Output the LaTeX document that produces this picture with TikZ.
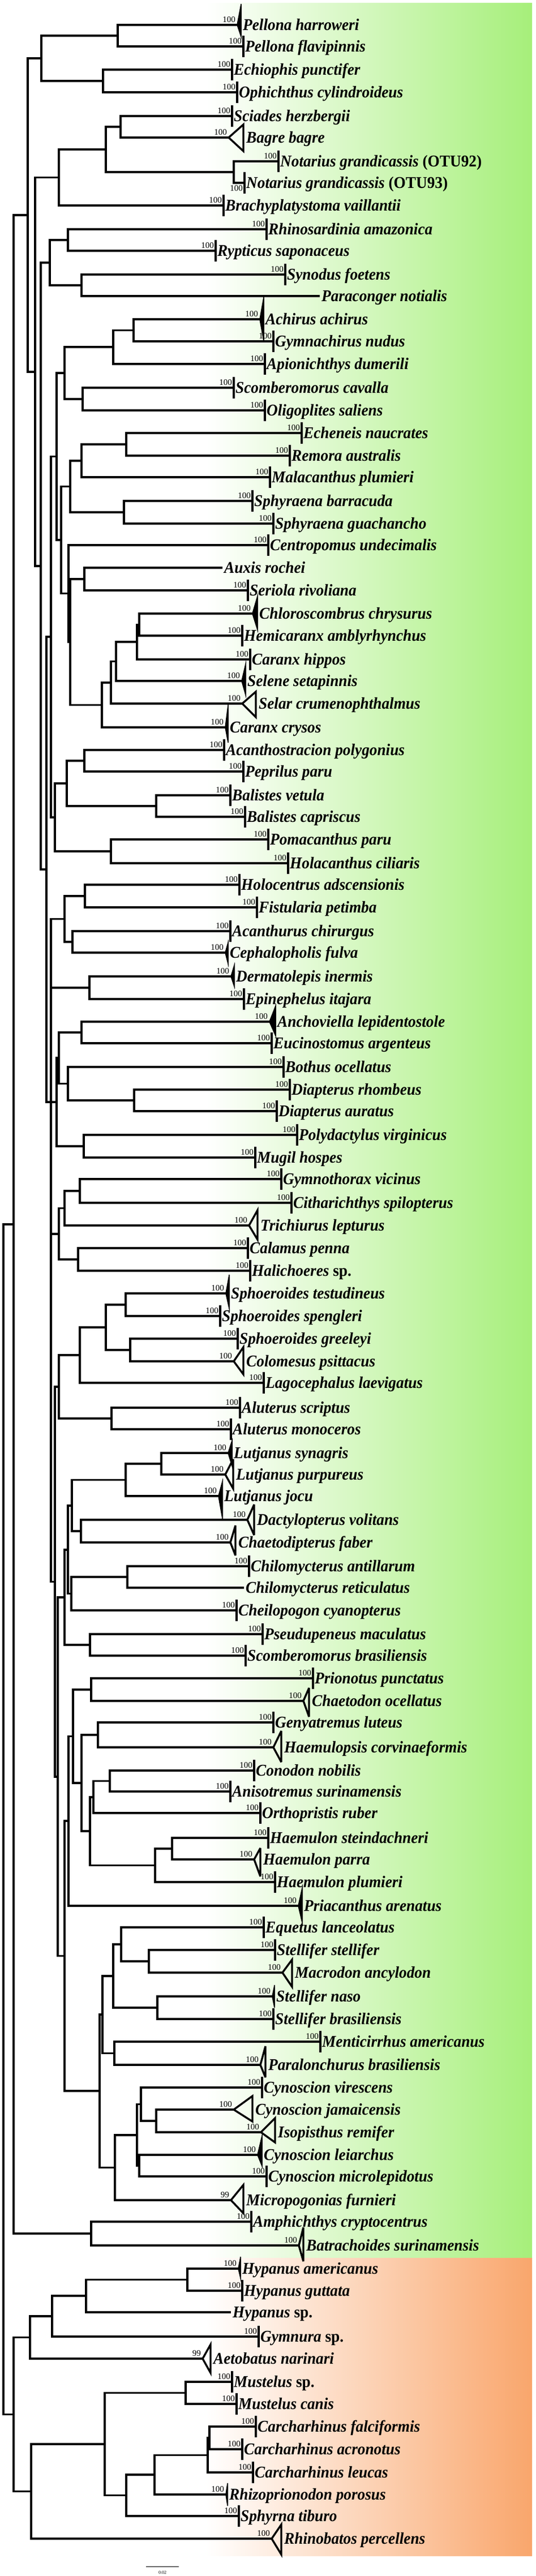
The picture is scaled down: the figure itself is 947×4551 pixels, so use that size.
\documentclass[tikz,border=0pt]{standalone}
\usepackage{fontspec}
\newfontfamily\labfont[FakeStretch=0.94]{Liberation Serif}
\newfontfamily\numfont{Liberation Serif}
\definecolor{grn}{RGB}{166,239,122}
\definecolor{org}{RGB}{249,166,108}
\tikzset{
 br/.style={line width=3.8pt, line join=miter},
 tipln/.style={line width=3.8pt},
 opentri/.style={line width=3.4pt, line join=miter, miter limit=4},
 lab/.style={font=\labfont\fontsize{29}{31}\selectfont\bfseries\itshape, anchor=base west, inner sep=0pt},
 bsl/.style={font=\numfont\fontsize{15}{16}\selectfont, anchor=south east, inner sep=0pt},
}
\newcommand\tipbar[5]{%
 \coordinate (#1) at (#2,#3);
 \draw[tipln] ({#2},{#3-19}) -- ({#2},{#3+19});
 \node[lab] (#1l) at ({#2+3},{#3+9}) {#4};
 \node[bsl] (#1b) at ({#2-3},{#3-4}) {#5};}
\newcommand\tipbarq[4]{%
 \coordinate (#1) at (#2,#3);
 \draw[tipln] ({#2},{#3-19}) -- ({#2},{#3+19});
 \node[lab] (#1l) at ({#2+3},{#3+9}) {#4};}
\newcommand\tipnone[4]{%
 \coordinate (#1) at (#2,#3);
 \node[lab] (#1l) at ({#2+3},{#3+9}) {#4};}
\newcommand\tipfill[8]{%
 \coordinate (#1) at (#2,#3);
 \fill[black] (#1) -- (#4,#5) -- (#4,#6) -- cycle;
 \draw[line width=1.5pt] (#1) -- (#4,#5) -- (#4,#6) -- cycle;
 \node[lab] (#1l) at ({#4+3},{#3+9}) {#7};
 \node[bsl] (#1b) at ({#2-3},{#3-4}) {#8};}
\newcommand\tipopen[8]{%
 \coordinate (#1) at (#2,#3);
 \draw[opentri] (#1) -- (#4,#5) -- (#4,#6) -- cycle;
 \node[lab] (#1l) at ({#4+5},{#3+9}) {#7};
 \node[bsl] (#1b) at ({#2-3},{#3-4}) {#8};}
\begin{document}
\begin{tikzpicture}[x=1pt,y=-1pt]
\useasboundingbox (0,0) rectangle (947,4551);
% backgrounds
\shade[left color=white, right color=grn] (364,5) rectangle (940,3989);
\shade[left color=white, right color=org] (364,3989) rectangle (940,4515);
% internal nodes
\foreach \n/\x/\y in {n_pel/208/63, n_eo/182/143, n_c1/73/103, n_sb/213/224, n_not/413/304,
  n_sbn/187/264, n_c2/104/313.5, n_rr/120/424, n_sp/144/504, n_c3/88/464, n_ag/236/583.5,
  n_aga/200/613, n_so/146/705, n114/114/659, n_er/223/785, n_erm/144/814, n_sph/219/905,
  n_es/124/859.5, n_as/149/1023, n_ch/246/1103.5, n_chc/242/1134, n_chcs/205/1168.5,
  n_sel/196/1206, n_car/180/1245.5, n124/124/1134, n121/121/1048.5, n108/108/954,
  n100/100/806.5, n_ap/149/1344, n_bal/276/1424, n118/118/1384, n_ph/196/1504,
  n97a/97/1444, n90a/90/1125, n_hf/150/1583, n_ac/128/1664, n114b/114/1623.5,
  n_de/158/1745, n_ae/144/1824, n_dd/237/1944, n_bd/120/1914.5, n104a/104/1869,
  n_pm/148/2025, n100b/100/1947, n_gc/141/2104, n_gct/114/2134.5, n_ch2/138/2225,
  n104b/104/2180, n_ss/222/2305, n_gco/230/2385, n187/187/2345, n141/141/2394,
  n_alu/197/2506, n104c/104/2450, n_lsp/285/2586, n_lut/222/2614.5, n_dc/143/2705,
  n127/127/2660, n_chil/225/2786, n126/126/2815.5, n120/120/2738, n_psc/159/2906,
  n114c/114/2822, n_pc/161/2985, n_gh/173/3065, n_ca/194/3146.5, n165/165/3175,
  n_hsp/304/3266, n274/274/3295.5, n159/159/3235, n144/144/3150, n129/129/3067.5,
  n121b/121/3217, n_sm/263/3465, n214/214/3435, n_snb/278/3547, n200/200/3491,
  n_mp/202/3627.5, n181/181/3559, n_ji/276/3747, n249/249/3717.5, n_lm/246/3826,
  n242/242/3772, n203/203/3829.5, n176/176/3694, n114d/114/3455.5, n102/102/3139,
  n97b/97/2794.5, n90b/90/1947, n82/82/1536, n72/72/1000, n61/62/657, n49/49/380,
  n_ab/161/3946, n24/24/2163, n_hyp/331/4027.5, n152/152/4056, n92/92/4092,
  n53/53/4129.5, n_mus/328/4227.5, n_fa/370/4307, n367/367/4337.5, n273/273/4372,
  n223/223/4408.5, n185/185/4318, n55/55/4401.5, n24b/24/4265.5, root/6/3214}
  {\coordinate (\n) at (\x,\y);}
% leaves
\tipfill{t1}{419}{44}{426}{7}{65}{Pellona harroweri}{100}
\tipbar{t2}{430}{82}{Pellona flavipinnis}{100}
\tipbar{t3}{410}{123}{Echiophis punctifer}{100}
\tipbar{t4}{419}{163}{Ophichthus cylindroideus}{100}
\tipbar{t5}{410}{205}{Sciades herzbergii}{100}
\tipopen{t6}{404}{243}{430}{220}{267}{Bagre bagre}{100}
\tipbar{t7}{492}{285}{Notarius grandicassis {\upshape (OTU92)}}{100}
\tipbarq{t8}{432}{323}{Notarius grandicassis {\upshape (OTU93)}}
\node[bsl, anchor=north east] (t8b) at (429,327) {100};
\tipbar{t9}{395}{363}{Brachyplatystoma vaillantii}{100}
\tipbar{t10}{471}{405}{Rhinosardinia amazonica}{100}
\tipbar{t11}{381}{443}{Rypticus saponaceus}{100}
\tipbar{t12}{504}{485}{Synodus foetens}{100}
\tipnone{t13}{565}{523}{Paraconger notialis}
\tipfill{t14}{459}{564}{466}{525}{603}{Achirus achirus}{100}
\tipbar{t15}{483}{603}{Gymnachirus nudus}{100}
\tipbar{t16}{468}{643}{Apionichthys dumerili}{100}
\tipbar{t17}{413}{685}{Scomberomorus cavalla}{100}
\tipbar{t18}{468}{725}{Oligoplites saliens}{100}
\tipbar{t19}{533}{765}{Echeneis naucrates}{100}
\tipbar{t20}{512}{805}{Remora australis}{100}
\tipbar{t21}{477}{843}{Malacanthus plumieri}{100}
\tipbar{t22}{446}{885}{Sphyraena barracuda}{100}
\tipbar{t23}{483}{925}{Sphyraena guachancho}{100}
\tipbar{t24}{474}{963}{Centropomus undecimalis}{100}
\tipnone{t25}{393}{1003}{Auxis rochei}
\tipbar{t26}{438}{1043}{Seriola rivoliana}{100}
\tipfill{t27}{446}{1084}{455}{1053}{1113}{Chloroscombrus chrysurus}{100}
\tipbar{t28}{428}{1123}{Hemicaranx amblyrhynchus}{100}
\tipbar{t29}{442}{1165}{Caranx hippos}{100}
\tipfill{t30}{427}{1203}{434}{1173}{1228}{Selene setapinnis}{100}
\tipopen{t31}{428}{1243}{452}{1222}{1267}{Selar crumenophthalmus}{100}
\tipfill{t32}{398}{1285}{403}{1245}{1312}{Caranx crysos}{100}
\tipbar{t33}{396}{1325}{Acanthostracion polygonius}{100}
\tipbar{t34}{430}{1363}{Peprilus paru}{100}
\tipbar{t35}{407}{1405}{Balistes vetula}{100}
\tipbar{t36}{433}{1443}{Balistes capriscus}{100}
\tipbar{t37}{474}{1483}{Pomacanthus paru}{100}
\tipbar{t38}{509}{1525}{Holacanthus ciliaris}{100}
\tipbar{t39}{423}{1563}{Holocentrus adscensionis}{100}
\tipbar{t40}{454}{1603}{Fistularia petimba}{100}
\tipbar{t41}{407}{1645}{Acanthurus chirurgus}{100}
\tipfill{t42}{398}{1683}{403}{1665}{1703}{Cephalopholis fulva}{100}
\tipfill{t43}{408}{1725}{414}{1705}{1743}{Dermatolepis inermis}{100}
\tipbar{t44}{431}{1765}{Epinephelus itajara}{100}
\tipfill{t45}{476}{1805}{487}{1777}{1830}{Anchoviella lepidentostole}{100}
\tipbar{t46}{480}{1843}{Eucinostomus argenteus}{100}
\tipbar{t47}{501}{1885}{Bothus ocellatus}{100}
\tipbar{t48}{512}{1925}{Diapterus rhombeus}{100}
\tipbar{t49}{489}{1963}{Diapterus auratus}{100}
\tipbar{t50}{525}{2005}{Polydactylus virginicus}{100}
\tipbar{t51}{451}{2045}{Mugil hospes}{100}
\tipbar{t52}{497}{2083}{Gymnothorax vicinus}{100}
\tipbar{t53}{515}{2125}{Citharichthys spilopterus}{100}
\tipopen{t54}{440}{2165}{455}{2138}{2190}{Trichiurus lepturus}{100}
\tipbar{t55}{438}{2205}{Calamus penna}{100}
\tipbar{t56}{442}{2245}{Halichoeres {\upshape sp.}}{100}
\tipfill{t57}{399}{2285}{405}{2252}{2312}{Sphoeroides testudineus}{100}
\tipbar{t58}{389}{2325}{Sphoeroides spengleri}{100}
\tipbar{t59}{420}{2365}{Sphoeroides greeleyi}{100}
\tipopen{t60}{413}{2405}{430}{2380}{2428}{Colomesus psittacus}{100}
\tipbar{t61}{466}{2443}{Lagocephalus laevigatus}{100}
\tipbar{t62}{424}{2487}{Aluterus scriptus}{100}
\tipbar{t63}{408}{2525}{Aluterus monoceros}{100}
\tipfill{t64}{403}{2567}{410}{2545}{2590}{Lutjanus synagris}{100}
\tipopen{t65}{398}{2605}{412}{2578}{2630}{Lutjanus purpureus}{100}
\tipfill{t66}{386}{2643}{393}{2617}{2683}{Lutjanus jocu}{100}
\tipopen{t67}{437}{2685}{449}{2658}{2712}{Dactylopterus volitans}{100}
\tipopen{t68}{407}{2725}{416}{2695}{2748}{Chaetodipterus faber}{100}
\tipbar{t69}{440}{2767}{Chilomycterus antillarum}{100}
\tipnone{t70}{431}{2805}{Chilomycterus reticulatus}
\tipbar{t71}{418}{2845}{Cheilopogon cyanopterus}{100}
\tipbar{t72}{464}{2887}{Pseudupeneus maculatus}{100}
\tipbar{t73}{434}{2925}{Scomberomorus brasiliensis}{100}
\tipbar{t74}{553}{2965}{Prionotus punctatus}{100}
\tipopen{t75}{536}{3005}{546}{2982}{3033}{Chaetodon ocellatus}{100}
\tipbar{t76}{483}{3043}{Genyatremus luteus}{100}
\tipopen{t77}{483}{3087}{497}{3058}{3113}{Haemulopsis corvinaeformis}{100}
\tipbar{t78}{449}{3128}{Conodon nobilis}{100}
\tipbar{t79}{407}{3165}{Anisotremus surinamensis}{100}
\tipbar{t80}{460}{3203}{Orthopristis ruber}{100}
\tipbar{t81}{474}{3247}{Haemulon steindachneri}{100}
\tipopen{t82}{449}{3285}{460}{3265}{3315}{Haemulon parra}{100}
\tipbar{t83}{486}{3325}{Haemulon plumieri}{100}
\tipfill{t84}{527}{3367}{534}{3335}{3397}{Priacanthus arenatus}{100}
\tipbar{t85}{466}{3405}{Equetus lanceolatus}{100}
\tipbar{t86}{486}{3445}{Stellifer stellifer}{100}
\tipopen{t87}{499}{3485}{516}{3462}{3510}{Macrodon ancylodon}{100}
\tipfill{t88}{481}{3527}{485}{3507}{3547}{Stellifer naso}{100}
\tipbar{t89}{483}{3567}{Stellifer brasiliensis}{100}
\tipbar{t90}{566}{3607}{Menticirrhus americanus}{100}
\tipopen{t91}{460}{3648}{469}{3615}{3670}{Paralonchurus brasiliensis}{100}
\tipbar{t92}{463}{3688}{Cynoscion virescens}{100}
\tipopen{t93}{413}{3727}{446}{3703}{3748}{Cynoscion jamaicensis}{100}
\tipopen{t94}{461}{3767}{486}{3742}{3785}{Isopisthus remifer}{100}
\tipfill{t95}{455}{3807}{463}{3773}{3827}{Cynoscion leiarchus}{100}
\tipbar{t96}{471}{3845}{Cynoscion microlepidotus}{100}
\tipopen{t97}{408}{3887}{430}{3860}{3910}{Micropogonias furnieri}{99}
\tipbar{t98}{444}{3925}{Amphichthys cryptocentrus}{100}
\tipopen{t99}{528}{3967}{536}{3935}{3995}{Batrachoides surinamensis}{100}
\tipfill{t100}{421}{4008}{425}{3987}{4025}{Hypanus americanus}{100}
\tipbar{t101}{428}{4047}{Hypanus guttata}{100}
\tipnone{t102}{408}{4085}{Hypanus {\upshape sp.}}
\tipbar{t103}{457}{4128}{Gymnura {\upshape sp.}}{100}
\tipopen{t104}{358}{4167}{372}{4142}{4192}{Aetobatus narinari}{99}
\tipbar{t105}{410}{4208}{Mustelus {\upshape sp.}}{100}
\tipbar{t106}{418}{4247}{Mustelus canis}{100}
\tipbar{t107}{452}{4287}{Carcharhinus falciformis}{100}
\tipbar{t108}{428}{4327}{Carcharhinus acronotus}{100}
\tipbar{t109}{447}{4368}{Carcharhinus leucas}{100}
\tipfill{t110}{399}{4407}{402}{4387}{4427}{Rhizoprionodon porosus}{100}
\tipbar{t111}{422}{4445}{Sphyrna tiburo}{100}
\tipopen{t112}{480}{4485}{497}{4460}{4513}{Rhinobatos percellens}{100}
% branches
\foreach \p/\c in {n_pel/t1, n_pel/t2, n_eo/t3, n_eo/t4, n_c1/n_pel, n_c1/n_eo,
  n_sb/t5, n_sb/t6, n_not/t7, n_not/t8, n_sbn/n_sb, n_sbn/n_not, n_c2/n_sbn, n_c2/t9,
  n_rr/t10, n_rr/t11, n_sp/t12, n_sp/t13, n_c3/n_rr, n_c3/n_sp,
  n_ag/t14, n_ag/t15, n_aga/n_ag, n_aga/t16, n_so/t17, n_so/t18, n114/n_aga, n114/n_so,
  n_er/t19, n_er/t20, n_erm/n_er, n_erm/t21, n_sph/t22, n_sph/t23, n_es/n_erm, n_es/n_sph,
  n_as/t25, n_as/t26, n_ch/t27, n_ch/t28, n_chc/n_ch, n_chc/t29, n_chcs/n_chc, n_chcs/t30,
  n_sel/n_chcs, n_sel/t31, n_car/n_sel, n_car/t32, n124/n_as, n124/n_car, n121/t24, n121/n124,
  n108/n_es, n108/n121, n100/n114, n100/n108}
  {\draw[br] (\p) |- (\c);}
\foreach \p/\c in {n_ap/t33, n_ap/t34, n_bal/t35, n_bal/t36, n118/n_ap, n118/n_bal,
  n_ph/t37, n_ph/t38, n97a/n118, n97a/n_ph, n90a/n100, n90a/n97a,
  n_hf/t39, n_hf/t40, n_ac/t41, n_ac/t42, n114b/n_hf, n114b/n_ac, n_de/t43, n_de/t44,
  n_ae/t45, n_ae/t46, n_dd/t48, n_dd/t49, n_bd/t47, n_bd/n_dd, n104a/n_ae, n104a/n_bd,
  n_pm/t50, n_pm/t51, n100b/n104a, n100b/n_pm, n_gc/t52, n_gc/t53, n_gct/n_gc, n_gct/t54,
  n_ch2/t55, n_ch2/t56, n104b/n_gct, n104b/n_ch2, n_ss/t57, n_ss/t58, n_gco/t59, n_gco/t60,
  n187/n_ss, n187/n_gco, n141/n187, n141/t61, n_alu/t62, n_alu/t63, n104c/n141, n104c/n_alu}
  {\draw[br] (\p) |- (\c);}
\foreach \p/\c in {n_lsp/t64, n_lsp/t65, n_lut/n_lsp, n_lut/t66, n_dc/t67, n_dc/t68,
  n127/n_lut, n127/n_dc, n_chil/t69, n_chil/t70, n126/n_chil, n126/t71, n120/n127, n120/n126,
  n_psc/t72, n_psc/t73, n114c/n120, n114c/n_psc, n_pc/t74, n_pc/t75, n_gh/t76, n_gh/t77,
  n_ca/t78, n_ca/t79, n165/n_ca, n165/t80, n_hsp/t81, n_hsp/t82, n274/n_hsp, n274/t83,
  n159/n165, n159/n274, n144/n_gh, n144/n159, n129/n_pc, n129/n144, n121b/n129, n121b/t84,
  n_sm/t86, n_sm/t87, n214/t85, n214/n_sm, n_snb/t88, n_snb/t89, n200/n214, n200/n_snb,
  n_mp/t90, n_mp/t91, n181/n200, n181/n_mp, n_ji/t93, n_ji/t94, n249/t92, n249/n_ji,
  n_lm/t95, n_lm/t96, n242/n249, n242/n_lm, n203/n242, n203/t97, n176/n181, n176/n203,
  n114d/n121b, n114d/n176, n102/n114c, n102/n114d, n97b/n104c, n97b/n102}
  {\draw[br] (\p) |- (\c);}
\foreach \p/\c in {n90b/n114b, n90b/n_de, n90b/n100b, n90b/n104b, n90b/n97b,
  n82/n90a, n82/n90b, n72/n_c3, n72/n82, n61/n_c2, n61/n72, n49/n_c1, n49/n61,
  n_ab/t98, n_ab/t99, n24/n49, n24/n_ab,
  n_hyp/t100, n_hyp/t101, n152/n_hyp, n152/t102, n92/n152, n92/t103, n53/n92, n53/t104,
  n_mus/t105, n_mus/t106, n_fa/t107, n_fa/t108, n367/n_fa, n367/t109, n273/n367, n273/t110,
  n223/n273, n223/t111, n185/n_mus, n185/n223, n55/n185, n55/t112, n24b/n53, n24b/n55,
  root/n24, root/n24b}
  {\draw[br] (\p) |- (\c);}
% scale bar
\coordinate (sbA) at (258,4534);
\coordinate (sbB) at (316,4534);
\draw[line width=0.8pt] (sbA) -- (sbB);
\node[font=\numfont\fontsize{8}{9}\selectfont, inner sep=0pt] (sbl) at (287,4545) {0.02};
\end{tikzpicture}
\end{document}
